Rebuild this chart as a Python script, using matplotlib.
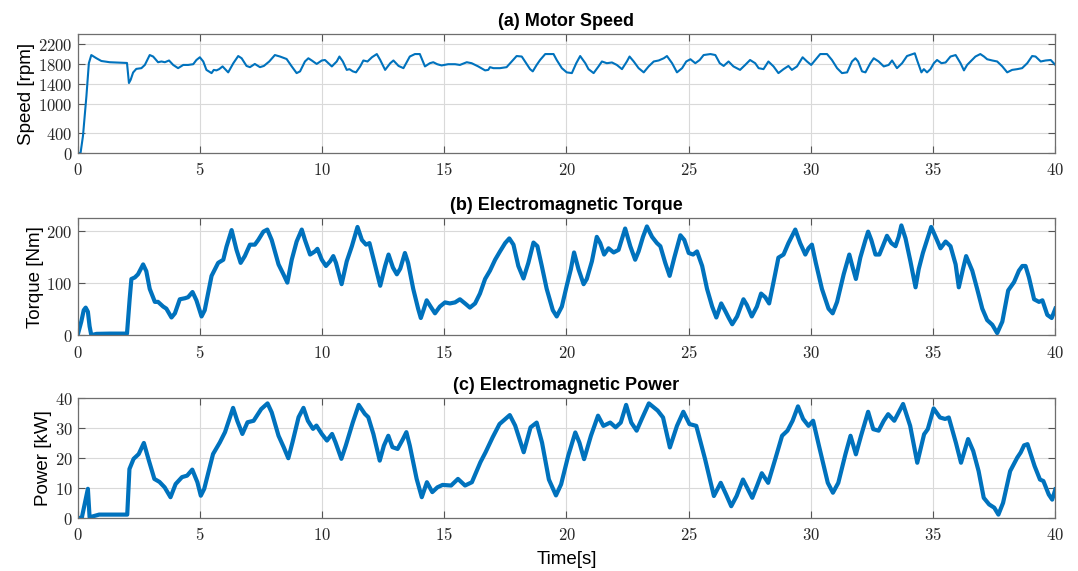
import matplotlib.pyplot as plt
from matplotlib.ticker import FuncFormatter

plt.rcParams["mathtext.fontset"] = "cm"

# motor speed [rpm]
speed_t = [0, 0.12, 0.22, 0.36, 0.46, 0.56, 0.77, 0.97, 1.31, 2.02, 2.10, 2.17, 2.27, 2.40, 2.61,
           2.75, 2.95, 3.09, 3.29, 3.43, 3.57, 3.74, 3.91, 4.11, 4.32, 4.52, 4.73, 4.86, 5.0,
           5.14, 5.27, 5.48, 5.57, 5.68, 5.79, 5.93, 6.16, 6.37, 6.57, 6.71, 6.91, 7.05, 7.25,
           7.46, 7.62, 7.84, 8.07, 8.28, 8.55, 8.76, 8.96, 9.10, 9.30, 9.44, 9.58, 9.78, 9.99,
           10.12, 10.26, 10.40, 10.60, 10.71, 10.85, 11.01, 11.12, 11.26, 11.39, 11.56, 11.69,
           11.86, 12.04, 12.24, 12.38, 12.58, 12.79, 12.92, 13.13, 13.33, 13.59, 13.80, 14.00,
           14.07, 14.21, 14.41, 14.55, 14.71, 14.89, 15.16, 15.44, 15.64, 15.92, 16.12, 16.39,
           16.67, 16.80, 16.87, 17.01, 17.28, 17.55, 17.76, 17.96, 18.17, 18.35, 18.51, 18.62,
           18.78, 18.92, 19.13, 19.47, 19.60, 19.81, 20.01, 20.22, 20.40, 20.56, 20.77, 20.90,
           21.11, 21.31, 21.45, 21.65, 21.86, 22.06, 22.27, 22.47, 22.58, 22.75, 22.95, 23.16,
           23.36, 23.57, 23.77, 23.98, 24.11, 24.32, 24.52, 24.73, 24.90, 25.07, 25.27, 25.45,
           25.61, 25.89, 26.09, 26.27, 26.43, 26.63, 26.83, 27.10, 27.31, 27.51, 27.72, 27.86,
           28.06, 28.26, 28.47, 28.67, 28.88, 29.08, 29.22, 29.43, 29.66, 29.84, 30.01, 30.18,
           30.38, 30.66, 30.86, 31.07, 31.27, 31.48, 31.68, 31.82, 31.93, 32.09, 32.23, 32.43,
           32.57, 32.77, 32.98, 33.18, 33.32, 33.52, 33.73, 33.93, 34.25, 34.34, 34.52, 34.62,
           34.75, 34.89, 35.03, 35.16, 35.34, 35.51, 35.71, 35.92, 36.12, 36.26, 36.39, 36.53,
           36.73, 36.93, 37.08, 37.21, 37.42, 37.62, 37.83, 38.03, 38.23, 38.44, 38.64, 38.85,
           39.05, 39.19, 39.40, 39.60, 39.81, 40.0]
speed_rpm = [0, 0, 350, 1150, 1815, 1980, 1915, 1860, 1835, 1820, 1415, 1480, 1627, 1700, 1715,
             1780, 1980, 1950, 1835, 1850, 1835, 1870, 1780, 1715, 1780, 1780, 1795, 1880, 1935,
             1850, 1680, 1615, 1680, 1670, 1695, 1750, 1630, 1815, 1960, 1915, 1760, 1735, 1800,
             1735, 1760, 1850, 1980, 1950, 1900, 1750, 1615, 1650, 1850, 1915, 1870, 1800, 1870,
             1880, 1815, 1750, 1850, 1950, 1850, 1680, 1695, 1650, 1630, 1750, 1870,
             1850, 1935, 2000, 1880, 1680, 1815, 1870, 1760, 1715, 1950, 2000, 2000,
             1915, 1750, 1815, 1835, 1795, 1770, 1795, 1795, 1780, 1835, 1815, 1750,
             1670, 1680, 1735, 1715, 1715, 1735, 1850, 1960, 1950, 1815, 1695, 1650,
             1780, 1880, 2000, 2000, 1880, 1715, 1630, 1615, 1815, 1960, 1815, 1695,
             1615, 1750, 1850, 1815, 1830, 1780, 1695, 1850, 1950, 1850, 1715, 1630,
             1750, 1850, 1870, 1915, 1960, 1815, 1630, 1715, 1850, 1895, 1815, 1880,
             1980, 2000, 1980, 1815, 1760, 1850, 1750, 1680, 1780, 1880, 1815, 1715,
             1695, 1850, 1750, 1615, 1695, 1760, 1680, 1750, 1935, 1850, 1780, 1880,
             2000, 2000, 1880, 1715, 1615, 1630, 1850, 1915, 1850, 1650, 1630, 1815,
             1915, 1850, 1750, 1780, 1870, 1715, 1815, 1960, 2015, 1880, 1630, 1695,
             1630, 1695, 1815, 1880, 1815, 1830, 1950, 1980, 1815, 1670, 1780, 1850,
             1950, 2000, 1950, 1895, 1870, 1850, 1750, 1630, 1680, 1695, 1715, 1815,
             1960, 1950, 1850, 1870, 1880, 1780]

# electromagnetic torque [Nm]
torque_t = [0, 0.15, 0.25, 0.33, 0.42, 0.49, 0.56, 0.77, 1.31, 2.02, 2.13, 2.20, 2.34, 2.47,
            2.68, 2.81, 2.95, 3.16, 3.29, 3.50, 3.63, 3.84, 3.98, 4.18, 4.39, 4.52, 4.70, 4.86,
            5.07, 5.20, 5.48, 5.75, 5.96, 6.09, 6.30, 6.50, 6.67, 6.84, 7.05, 7.25, 7.39, 7.60,
            7.76, 7.94, 8.22, 8.42, 8.58, 8.76, 8.96, 9.17, 9.30, 9.51, 9.71, 9.81, 9.99, 10.16,
            10.33, 10.46, 10.57, 10.80, 11.01, 11.22, 11.45, 11.63, 11.80, 11.94, 12.13, 12.38,
            12.58, 12.72, 12.90, 13.06, 13.20, 13.39, 13.52, 13.73, 13.93, 14.04, 14.17, 14.28,
            14.44, 14.62, 14.82, 15.03, 15.23, 15.44, 15.64, 15.85, 16.05, 16.26, 16.46, 16.67,
            16.87, 17.08, 17.28, 17.49, 17.66, 17.83, 18.03, 18.24, 18.44, 18.65, 18.81, 18.99,
            19.19, 19.44, 19.60, 19.81, 20.01, 20.18, 20.31, 20.49, 20.70, 20.83, 21.04, 21.24,
            21.38, 21.54, 21.72, 21.93, 22.13, 22.40, 22.61, 22.81, 22.95, 23.13, 23.29, 23.50,
            23.70, 23.84, 24.04, 24.22, 24.41, 24.66, 24.82, 25.00, 25.18, 25.34, 25.55, 25.75,
            25.96, 26.13, 26.33, 26.50, 26.64, 26.78, 26.98, 27.24, 27.38, 27.58, 27.79, 27.96,
            28.13, 28.29, 28.47, 28.67, 28.88, 29.08, 29.36, 29.56, 29.77, 29.90, 30.04, 30.20,
            30.45, 30.72, 30.89, 31.07, 31.34, 31.57, 31.71, 31.84, 32.02, 32.23, 32.34, 32.47,
            32.64, 32.80, 32.94, 33.11, 33.29, 33.46, 33.59, 33.70, 33.87, 34.07, 34.28, 34.41,
            34.58, 34.75, 34.92, 35.10, 35.30, 35.51, 35.71, 35.92, 36.05, 36.22, 36.35, 36.60,
            36.80, 37.01, 37.21, 37.42, 37.62, 37.83, 38.07, 38.31, 38.51, 38.65, 38.78, 38.92,
            39.13, 39.33, 39.47, 39.67, 39.85, 40.0]
torque_nm = [0, 26, 48, 53, 45, 17, 0, 2.5, 3, 3, 70, 108, 111, 117,
             136, 123, 89, 64, 64, 55, 51, 34, 42, 69, 71, 73, 83, 67,
             36, 48, 114, 139, 145, 170, 202, 164, 139, 152, 174, 174, 183, 199,
             203, 183, 136, 117, 101, 145, 180, 203, 183, 155, 161, 166, 145, 133,
             142, 152, 139, 98, 142, 171, 208, 183, 174, 177, 142, 95,
             133, 155, 130, 117, 128, 158, 139, 89, 51, 33, 51, 67,
             55, 42, 55, 63, 61, 63, 69, 61, 53, 61, 80, 108,
             124, 145, 161, 177, 186, 174, 133, 109, 139, 178, 171, 133,
             89, 48, 36, 55, 95, 127, 159, 127, 98, 108, 142, 189,
             177, 155, 167, 159, 164, 205, 171, 145, 161, 189, 209, 189,
             177, 171, 139, 114, 149, 192, 183, 158, 155, 161, 133, 89,
             55, 34, 61, 46, 33, 21, 36, 69, 58, 36, 55, 80,
             73, 61, 102, 149, 155, 177, 203, 177, 155, 167, 174, 139,
             89, 51, 42, 64, 117, 155, 130, 108, 149, 183, 199, 183,
             155, 155, 171, 191, 177, 171, 189, 211, 186, 142, 92, 127,
             158, 183, 208, 189, 167, 180, 171, 136, 92, 127, 152, 124,
             89, 51, 29, 20, 4, 26, 86, 102, 124, 133, 133, 111,
             69, 64, 67, 39, 33, 51]

# electromagnetic power [kW]
power_t = [0, 0.17, 0.42, 0.49, 0.88, 2.03, 2.12, 2.29, 2.50, 2.71, 2.92, 3.14, 3.35, 3.56,
           3.80, 4.01, 4.27, 4.48, 4.69, 4.90, 5.04, 5.18, 5.54, 5.82, 6.03, 6.36, 6.53, 6.74,
           6.95, 7.20, 7.51, 7.77, 7.94, 8.22, 8.43, 8.62, 8.79, 9.04, 9.24, 9.42, 9.63, 9.77,
           9.99, 10.20, 10.41, 10.55, 10.79, 10.97, 11.26, 11.50, 11.75, 11.89, 12.10, 12.36,
           12.53, 12.71, 12.88, 13.09, 13.31, 13.45, 13.59, 13.87, 14.08, 14.29, 14.51, 14.72,
           14.93, 15.28, 15.56, 15.85, 16.13, 16.48, 16.69, 16.98, 17.26, 17.68, 17.90, 18.25,
           18.53, 18.78, 19.00, 19.28, 19.57, 19.78, 20.07, 20.36, 20.53, 20.72, 21.00, 21.29,
           21.51, 21.79, 22.01, 22.22, 22.44, 22.65, 22.87, 23.08, 23.37, 23.73, 23.95, 24.23,
           24.52, 24.78, 25.03, 25.31, 25.67, 26.03, 26.31, 26.53, 26.74, 26.96, 27.22, 27.39,
           27.60, 27.79, 27.99, 28.25, 28.54, 28.82, 29.04, 29.25, 29.47, 29.68, 29.90, 30.09,
           30.33, 30.69, 30.90, 31.12, 31.41, 31.62, 31.84, 32.05, 32.34, 32.55, 32.77, 32.98,
           33.16, 33.41, 33.77, 34.06, 34.35, 34.63, 34.78, 35.02, 35.28, 35.49, 35.64, 35.93,
           36.14, 36.43, 36.64, 36.86, 37.07, 37.29, 37.50, 37.67, 37.86, 38.15, 38.44, 38.58,
           38.72, 38.86, 39.15, 39.37, 39.51, 39.73, 39.87, 40.0]
power_kw = [0, 0, 9.7, 0.2, 1.1, 1.1, 16.3, 19.7, 21.3, 25, 19, 13, 12, 10.2,
            6.9, 11.3, 13.6, 14.1, 16.1, 11.9, 7.4, 9.7, 21.3, 25.2, 28.6, 36.7, 32.4, 28,
            31.9, 32.4, 36.3, 38.2, 35.2, 27.4, 23.6, 19.9, 25.2, 33.6, 36.7, 32.4, 29.7, 30.8,
            28, 25.8, 28, 25.2, 19.7, 24.1, 31.9, 37.7, 34.7, 33.6, 28, 19.1,
            24.1, 27.4, 23.6, 23, 26.3, 28.6, 24.1, 13, 6.9, 11.9, 8.6, 10.2,
            11, 10.8, 13, 10.8, 11.9, 18.6, 21.9, 26.9, 31.3, 34.3, 30.8, 21.9,
            30.2, 31.8, 25.1, 12.8, 7.5, 11.2, 20.7, 28.5, 25.1, 19.6, 27.4, 34.1,
            30.7, 31.8, 30.2, 31.8, 37.7, 31.8, 29.1, 33, 38.2, 35.8, 33.5, 23.5,
            30.7, 35.4, 31.3, 30.7, 19.6, 7.3, 11.7, 7.8, 3.9, 7.3, 12.8, 10.1,
            6.7, 10.6, 14.9, 11.7, 19.6, 27.4, 29.1, 32.4, 37.2, 33, 30.7, 32.4,
            24, 11.7, 8.4, 11.7, 21.2, 27.4, 21.2, 27.4, 35.4, 29.6, 29.1, 32.4,
            34.6, 32.4, 38, 30.7, 18.4, 27.9, 29.6, 36.5, 33.5, 33, 33.5, 25.1,
            18.4, 26.3, 22.3, 15.6, 6.7, 4.5, 3.4, 1.1, 5, 15.6, 20.1, 21.8,
            24.2, 24.6, 17.3, 12.8, 12.3, 7.8, 6.1, 9.5]

titles = ["(a) Motor Speed", "(b) Electromagnetic Torque", "(c) Electromagnetic Power"]
ylabels = ["Speed [rpm]", "Torque [Nm]", "Power [kW]"]
yticks = [[0, 400, 1000, 1400, 1800, 2200], [0, 100, 200], [0, 10, 20, 30, 40]]
ylims = [(0, 2400), (0, 225), (0, 40)]
xticks = [0, 5, 10, 15, 20, 25, 30, 35, 40]

series = [(speed_t, speed_rpm, 1.5), (torque_t, torque_nm, 3.0), (power_t, power_kw, 3.0)]
boxes = [(0.072, 0.732, 0.907, 0.208), (0.072, 0.413, 0.907, 0.205), (0.072, 0.093, 0.907, 0.210)]

fig = plt.figure(figsize=(10.78, 5.71), dpi=100)
tick_fmt = FuncFormatter(lambda v, pos: r"$%g$" % v)

for i in range(3):
    ax = fig.add_axes(boxes[i])
    t, y, lw = series[i]
    ax.plot(t, y, color="#0072BD", lw=lw, solid_joinstyle="round")
    ax.set_xlim(0, 40)
    ax.set_ylim(*ylims[i])
    ax.set_xticks(xticks)
    ax.set_yticks(yticks[i])
    ax.xaxis.set_major_formatter(tick_fmt)
    ax.yaxis.set_major_formatter(tick_fmt)
    ax.grid(True, color="#d9d9d9", lw=0.8)
    ax.tick_params(direction="in", top=True, right=True, length=5, width=0.8,
                   color="#555555", labelcolor="#262626", labelsize=12)
    ax.tick_params(axis="x", pad=6)
    for s in ax.spines.values():
        s.set_color("#6e6e6e")
        s.set_linewidth(0.9)
    ax.set_ylabel(ylabels[i], fontsize=13.5, family="Liberation Sans", labelpad=2)
    ax.set_title(titles[i], fontsize=13, weight="bold", family="Liberation Sans", pad=6)
    if i == 2:
        ax.set_xlabel("Time[s]", fontsize=13.5, family="Liberation Sans", labelpad=5)

fig.savefig("out.png", dpi=100)
